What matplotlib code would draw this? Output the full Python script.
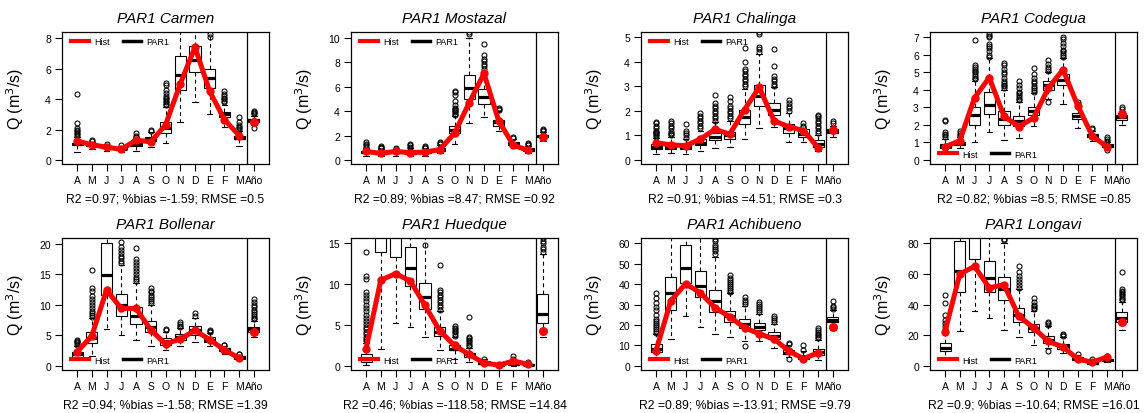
import matplotlib
matplotlib.use("Agg")
import matplotlib.pyplot as plt
from matplotlib.lines import Line2D

plt.rcParams['font.family'] = ['Liberation Sans', 'DejaVu Sans']

months = ["A", "M", "J", "J", "A", "S", "O", "N", "D", "E", "F", "M", "Año"]

# ---------------- Carmen ----------------
carmen_lo = [0.5, 0.7, 0.6, 0.55, 0.6, 0.85, 1.1, 2.5, 3.8, 3.0, 2.2, 0.9, 2.3]
carmen_q1 = [1.0, 0.9, 0.8, 0.7, 0.95, 1.25, 1.8, 4.6, 5.8, 4.7, 2.8, 1.35, 2.5]
carmen_med = [1.05, 1.0, 0.85, 0.75, 1.05, 1.35, 2.1, 5.6, 6.55, 5.4, 3.0, 1.45, 2.6]
carmen_q3 = [1.15, 1.1, 0.95, 0.85, 1.2, 1.5, 2.5, 6.8, 7.45, 6.0, 3.15, 1.6, 2.7]
carmen_hi = [1.5, 1.2, 1.05, 0.95, 1.4, 1.85, 3.5, 8.9, 9.0, 9.2, 3.6, 1.9, 2.9]
carmen_fl = [[1.6, 1.7, 1.8, 1.9, 2.0, 2.1, 2.4, 4.35], [1.25, 1.3], [1.08], [0.97],
             [1.5, 1.6, 1.8], [1.9, 2.0],
             [3.6, 3.7, 3.8, 3.9, 4.0, 4.1, 4.2, 4.4, 4.6, 4.9, 5.05], [], [], [8.1, 8.25],
             [3.8, 3.9, 4.0, 4.1, 4.2, 4.3, 4.5], [2.0, 2.1, 2.2, 2.3, 2.5, 2.8],
             [2.1, 3.0, 3.1, 3.15, 3.2]]
carmen_hist = [1.25, 1.0, 0.85, 0.7, 1.3, 1.2, 2.3, 5.0, 7.4, 4.5, 2.65, 1.6, 2.5]

# ---------------- Mostazal ----------------
mostazal_lo = [0.35, 0.35, 0.35, 0.35, 0.35, 0.6, 1.3, 3.0, 3.5, 2.4, 1.05, 0.55, 1.55]
mostazal_q1 = [0.6, 0.5, 0.55, 0.5, 0.55, 0.75, 2.2, 5.0, 4.6, 2.8, 1.25, 0.75, 1.85]
mostazal_med = [0.65, 0.6, 0.65, 0.6, 0.65, 0.85, 2.5, 5.9, 5.2, 3.1, 1.35, 0.85, 1.95]
mostazal_q3 = [0.75, 0.7, 0.75, 0.75, 0.8, 1.0, 2.8, 7.0, 5.8, 3.3, 1.45, 0.95, 2.05]
mostazal_hi = [1.0, 0.9, 0.85, 0.95, 0.95, 1.2, 3.6, 10.0, 7.3, 4.0, 1.7, 1.15, 2.3]
mostazal_fl = [[1.1, 1.2, 1.3, 1.45], [0.95, 1.0, 1.1, 1.15], [0.9, 0.95], [1.0, 1.1, 1.2, 1.3],
               [1.0, 1.1, 1.15], [1.3, 1.4, 1.5],
               [3.7, 3.8, 3.9, 4.0, 4.1, 4.2, 4.3, 4.5, 4.8, 5.3, 5.6, 5.7], [10.3, 10.5],
               [7.5, 7.7, 7.9, 8.1, 8.3, 8.6, 9.5], [4.1, 4.2, 4.3], [1.8, 1.9],
               [1.2, 1.3, 1.4], [2.4, 2.5, 2.55]]
mostazal_hist = [0.7, 0.55, 0.7, 0.6, 0.65, 0.85, 2.2, 4.7, 7.1, 3.2, 1.2, 0.8, 1.9]

# ---------------- Chalinga ----------------
chalinga_lo = [0.25, 0.3, 0.25, 0.35, 0.5, 0.55, 0.85, 1.3, 1.35, 0.75, 0.75, 0.35, 0.95]
chalinga_q1 = [0.45, 0.45, 0.45, 0.6, 0.8, 0.85, 1.45, 2.2, 1.85, 1.1, 0.95, 0.55, 1.1]
chalinga_med = [0.55, 0.55, 0.55, 0.7, 0.95, 1.0, 1.75, 2.6, 2.05, 1.3, 1.05, 0.65, 1.17]
chalinga_q3 = [0.65, 0.7, 0.65, 0.85, 1.1, 1.15, 2.05, 3.05, 2.3, 1.45, 1.25, 0.8, 1.25]
chalinga_hi = [0.9, 0.95, 0.85, 1.2, 1.55, 1.6, 2.9, 4.3, 2.95, 1.9, 1.3, 1.0, 1.4]
chalinga_fl = [[0.95, 1.0, 1.05, 1.1, 1.15, 1.2, 1.3, 1.4, 1.5, 1.55],
               [1.0, 1.05, 1.1, 1.2, 1.3, 1.4, 1.5, 1.6],
               [0.9, 1.0, 1.1, 1.2, 1.45],
               [1.3, 1.4, 1.5, 1.6, 1.7, 1.8, 1.9],
               [1.6, 1.7, 1.8, 1.9, 2.0, 2.1, 2.2, 2.3, 2.65],
               [1.7, 1.8, 1.9, 2.0, 2.1, 2.2, 2.4, 2.55],
               [3.0, 3.1, 3.2, 3.3, 3.4, 3.5, 3.6, 3.7, 4.0, 4.55],
               [4.4, 4.5, 4.6, 5.1, 5.2],
               [3.0, 3.1, 3.2, 3.3, 3.4, 3.8, 4.5],
               [2.0, 2.1, 2.2, 2.3, 2.45], [1.35, 1.4, 1.5],
               [1.1, 1.2, 1.3, 1.4, 1.5, 1.6, 1.7, 1.8, 1.85], [1.5, 1.6]]
chalinga_hist = [0.7, 0.62, 0.58, 0.85, 1.25, 1.05, 2.05, 2.95, 1.6, 1.35, 1.2, 0.5, 1.22]

# ---------------- Codegua ----------------
codegua_lo = [0.5, 0.7, 1.05, 1.6, 1.15, 1.25, 1.95, 3.5, 3.2, 1.85, 1.1, 0.6, 2.0]
codegua_q1 = [0.7, 0.85, 2.0, 2.6, 2.0, 1.95, 2.55, 4.0, 4.25, 2.35, 1.3, 0.75, 2.3]
codegua_med = [0.8, 0.95, 2.55, 3.15, 2.35, 2.2, 2.8, 4.25, 4.55, 2.5, 1.38, 0.8, 2.45]
codegua_q3 = [0.9, 1.05, 3.05, 3.9, 2.8, 2.5, 3.05, 4.5, 4.9, 2.7, 1.5, 0.9, 2.55]
codegua_hi = [1.2, 1.3, 4.5, 5.8, 4.0, 3.3, 3.8, 5.0, 5.8, 3.1, 1.65, 1.0, 2.8]
codegua_fl = [[1.3, 1.4, 1.5, 1.6, 2.2, 2.3], [1.35, 1.45, 1.55, 1.65],
              [4.6, 4.7, 4.8, 4.9, 5.0, 5.1, 5.2, 5.3, 5.4, 6.85],
              [5.9, 6.0, 6.2, 6.4, 6.5, 6.6, 7.0, 7.1, 7.2],
              [4.1, 4.2, 4.3, 4.4, 4.5, 4.7, 4.9, 5.0, 5.2, 5.4, 5.55],
              [3.4, 3.5, 3.6, 3.7, 3.8, 3.9, 4.1, 4.3, 4.5],
              [3.9, 4.0, 4.1, 4.2, 4.4, 4.5, 4.7, 4.9, 5.25],
              [3.3, 5.1, 5.2, 5.3, 5.5, 5.7],
              [5.9, 6.0, 6.1, 6.2, 6.3, 6.5, 6.7, 6.9, 7.0],
              [3.2, 3.3], [1.75, 1.8], [0.55, 1.05, 1.1, 1.2, 1.3], [2.9, 3.0]]
codegua_hist = [0.75, 1.1, 3.55, 4.7, 2.5, 1.9, 2.4, 4.1, 5.15, 3.1, 1.35, 0.75, 2.65]

# ---------------- Bollenar ----------------
bollenar_lo = [1.0, 1.6, 6.1, 5.0, 4.3, 3.3, 2.6, 3.3, 3.9, 3.2, 1.9, 1.0, 4.7]
bollenar_q1 = [1.5, 3.8, 11.6, 8.2, 6.8, 5.5, 3.4, 4.2, 5.0, 3.9, 2.4, 1.2, 5.6]
bollenar_med = [1.9, 4.6, 14.8, 9.9, 8.1, 6.3, 4.0, 4.7, 5.8, 4.3, 2.7, 1.4, 6.0]
bollenar_q3 = [2.3, 5.6, 20.1, 11.7, 9.7, 7.3, 4.5, 5.2, 6.5, 4.7, 3.0, 1.6, 6.4]
bollenar_hi = [3.3, 7.8, 23.0, 16.5, 13.5, 10.0, 5.6, 6.2, 7.9, 5.4, 3.3, 1.8, 7.4]
bollenar_fl = [[3.5, 3.7, 3.9, 4.1, 4.3],
               [8.0, 8.3, 8.6, 9.0, 9.5, 10.0, 10.5, 11.0, 11.5, 12.2, 12.8, 15.7],
               [],
               [16.8, 17.2, 17.6, 18.0, 18.5, 19.0, 19.5, 20.3],
               [13.8, 14.2, 14.6, 15.0, 15.5, 16.0, 16.5, 17.0, 17.5, 19.3],
               [10.3, 10.6, 11.0, 11.3, 11.6, 12.0, 12.3, 12.8],
               [5.9, 6.1], [6.4, 6.6, 6.8, 7.1], [8.2, 8.7], [5.5, 5.7, 5.9],
               [3.4, 3.5], [1.9, 2.0],
               [7.6, 7.9, 8.2, 8.5, 8.8, 9.2, 9.6, 10.0, 10.5, 11.0]]
bollenar_hist = [2.3, 4.9, 12.4, 9.4, 9.4, 5.9, 3.6, 4.4, 5.8, 4.3, 2.6, 1.3, 5.6]

# ---------------- Huedque ----------------
huedque_lo = [0.15, 2.1, 5.3, 4.8, 3.5, 2.0, 0.9, 0.5, 0.1, 0.0, 0.05, 0.03, 3.5]
huedque_q1 = [0.5, 13.9, 13.3, 9.8, 7.0, 3.7, 1.9, 1.1, 0.25, 0.05, 0.15, 0.1, 5.2]
huedque_med = [0.8, 16.5, 17.0, 12.0, 8.4, 4.2, 2.1, 1.4, 0.35, 0.1, 0.2, 0.15, 6.4]
huedque_q3 = [1.45, 19.5, 21.0, 14.5, 10.1, 4.8, 2.5, 1.6, 0.55, 0.2, 0.35, 0.25, 8.8]
huedque_hi = [2.8, 30.0, 32.0, 22.0, 16.5, 6.7, 3.5, 2.2, 0.8, 0.35, 0.6, 0.4, 13.7]
huedque_fl = [[3.0, 3.3, 3.6, 3.9, 4.2, 4.5, 4.8, 5.1, 5.5, 5.9, 6.2, 6.7, 7.1, 7.5,
               7.9, 8.3, 8.7, 9.0, 10.6, 11.0, 13.9],
              [], [], [], [14.8],
              [6.9, 7.2, 7.5, 7.8, 8.1, 8.4, 8.7, 9.0, 9.3, 12.3],
              [3.7, 3.9, 4.1, 4.3, 4.5, 4.7, 4.9],
              [2.4, 2.6, 2.8, 3.0, 3.2, 3.4, 3.6, 6.0],
              [0.9], [], [0.7, 0.8, 1.2], [0.45],
              [14.0, 14.3, 14.6, 15.0, 15.3, 15.6]]
huedque_hist = [2.1, 10.5, 11.3, 10.4, 7.4, 4.3, 2.5, 1.4, 0.35, 0.1, 0.6, 0.2, 4.3]

# ---------------- Achibueno ----------------
achibueno_lo = [3.5, 13.0, 24.3, 19.0, 15.5, 14.0, 12.3, 12.0, 9.0, 4.5, 2.5, 2.8, 17.5]
achibueno_q1 = [7.0, 27.5, 40.5, 33.5, 26.5, 21.5, 18.5, 17.5, 13.0, 5.8, 3.5, 5.5, 21.5]
achibueno_med = [8.5, 35.5, 47.8, 39.0, 31.8, 24.3, 20.5, 19.2, 14.5, 6.5, 4.3, 6.8, 22.5]
achibueno_q3 = [10.8, 43.5, 59.0, 46.3, 37.3, 27.0, 22.8, 21.2, 16.5, 7.8, 5.2, 8.5, 24.0]
achibueno_hi = [15.5, 70.0, 85.0, 70.0, 53.5, 35.5, 29.5, 25.5, 20.5, 10.3, 7.5, 12.8, 27.5]
achibueno_fl = [[16, 17, 18, 19, 20, 21, 22, 23, 25, 27.5, 29, 31, 33, 35.8],
                [], [], [],
                [55, 56, 57, 58, 59, 61, 62],
                [36, 37, 38, 39, 40, 41, 42, 43, 44.5],
                [9.8, 30.5, 31.5, 32.5, 33.5],
                [26.5, 27.5, 28.5, 29.5, 30.5, 31.5],
                [21.5, 22.5, 23.5, 24.5],
                [3.2, 10.8, 11.3], [8, 10.3],
                [13.5, 14.3, 15, 15.8, 16.5, 17.5, 18.5],
                [28, 29, 29.5, 32]]
achibueno_hist = [7.5, 31.8, 40.2, 35.8, 28.5, 24.0, 18.7, 15.7, 13.2, 7.3, 3.5, 6.5, 19.2]

# ---------------- Longavi ----------------
longavi_lo = [4.5, 23.0, 36.0, 31.0, 23.5, 19.0, 14.0, 11.5, 8.5, 3.0, 1.0, 2.3, 23.5]
longavi_q1 = [9.5, 48.0, 70.0, 48.0, 43.0, 29.0, 22.0, 15.0, 11.0, 4.0, 1.5, 3.0, 29.0]
longavi_med = [12.0, 62.0, 90.0, 57.5, 50.5, 33.0, 25.0, 17.0, 13.0, 5.0, 2.2, 3.7, 31.5]
longavi_q3 = [15.0, 81.5, 110.0, 68.5, 58.0, 38.0, 27.5, 19.5, 14.5, 6.0, 3.0, 4.5, 35.0]
longavi_hi = [22.0, 120.0, 150.0, 110.0, 80.0, 50.0, 36.0, 26.0, 19.0, 7.5, 4.0, 5.5, 42.0]
longavi_fl = [[24, 26, 28, 30, 33.5, 41, 46], [], [], [], [82, 83],
              [51, 53, 55, 57, 59, 61, 65.5],
              [37, 38, 39, 40, 42, 44.5],
              [10, 27, 28, 29], [19.5, 20, 21], [8], [4.5], [6, 6.5],
              [43, 44, 45, 46, 47, 48, 49, 50, 61.5]]
longavi_hist = [22.5, 60.0, 65.0, 51.0, 53.0, 32.5, 25.0, 16.0, 12.5, 4.5, 2.5, 6.0, 29.0]

titles = ["PAR1 Carmen", "PAR1 Mostazal", "PAR1 Chalinga", "PAR1 Codegua",
          "PAR1 Bollenar", "PAR1 Huedque", "PAR1 Achibueno", "PAR1 Longavi"]
r2_vals = ["0.97", "0.89", "0.91", "0.82", "0.94", "0.46", "0.89", "0.9"]
bias_vals = ["-1.59", "8.47", "4.51", "8.5", "-1.58", "-118.58", "-13.91", "-10.64"]
rmse_vals = ["0.5", "0.92", "0.3", "0.85", "1.39", "14.84", "9.79", "16.01"]
ylims = [(-0.26, 8.4), (-0.33, 10.5), (-0.16, 5.2), (-0.23, 7.3),
         (-0.66, 20.9), (-0.5, 15.66), (-2.0, 62.6), (-2.6, 83.5)]
ytick_sets = [[0, 2, 4, 6, 8], [0, 2, 4, 6, 8, 10], [0, 1, 2, 3, 4, 5],
              [0, 1, 2, 3, 4, 5, 6, 7], [0, 5, 10, 15, 20], [0, 5, 10, 15],
              [0, 10, 20, 30, 40, 50, 60], [0, 20, 40, 60, 80]]
legend_top = [True, True, True, False, False, False, False, False]

series = [
    (carmen_lo, carmen_q1, carmen_med, carmen_q3, carmen_hi, carmen_fl, carmen_hist),
    (mostazal_lo, mostazal_q1, mostazal_med, mostazal_q3, mostazal_hi, mostazal_fl, mostazal_hist),
    (chalinga_lo, chalinga_q1, chalinga_med, chalinga_q3, chalinga_hi, chalinga_fl, chalinga_hist),
    (codegua_lo, codegua_q1, codegua_med, codegua_q3, codegua_hi, codegua_fl, codegua_hist),
    (bollenar_lo, bollenar_q1, bollenar_med, bollenar_q3, bollenar_hi, bollenar_fl, bollenar_hist),
    (huedque_lo, huedque_q1, huedque_med, huedque_q3, huedque_hi, huedque_fl, huedque_hist),
    (achibueno_lo, achibueno_q1, achibueno_med, achibueno_q3, achibueno_hi, achibueno_fl, achibueno_hist),
    (longavi_lo, longavi_q1, longavi_med, longavi_q3, longavi_hi, longavi_fl, longavi_hist),
]

W, H = 1147, 414
fig = plt.figure(figsize=(W / 100, H / 100), dpi=100)

col_left = [62, 351, 641, 930]
row_top = [33, 239]
ax_w, ax_h = 207, 132

positions = list(range(1, 14))

for k in range(8):
    r, c = divmod(k, 4)
    left = col_left[c] / W
    bottom = 1 - (row_top[r] + ax_h) / H
    ax = fig.add_axes([left, bottom, ax_w / W, ax_h / H])
    lo, q1, med, q3, hi, fl, hist = series[k]
    stats = [dict(whislo=lo[i], q1=q1[i], med=med[i], q3=q3[i], whishi=hi[i], fliers=fl[i])
             for i in range(13)]
    ax.bxp(stats, positions=positions, widths=0.75, patch_artist=True,
           boxprops=dict(facecolor='white', edgecolor='black', linewidth=0.8),
           medianprops=dict(color='black', linewidth=2.3, solid_capstyle='butt'),
           whiskerprops=dict(color='black', linewidth=0.8, linestyle=(0, (3.5, 3))),
           capprops=dict(color='black', linewidth=0.8),
           flierprops=dict(marker='o', markersize=3.6, markerfacecolor='none',
                           markeredgecolor='black', markeredgewidth=0.75))
    ax.plot(positions[:12], hist[:12], color='red', lw=3.6, marker='o', ms=5,
            solid_joinstyle='round', zorder=6)
    ax.plot(positions[12:], hist[12:], 'o', color='red', ms=5.5, zorder=6)
    ax.axvline(12.5, color='black', lw=0.9, zorder=7)

    ax.set_xlim(-0.02, 14.02)
    ax.set_ylim(*ylims[k])
    ax.set_yticks(ytick_sets[k])
    ax.set_xticks(positions)
    ax.set_xticklabels(months)
    ax.tick_params(axis='both', direction='out', length=5, width=0.8, labelsize=7.5)
    ax.tick_params(axis='x', pad=3)
    ax.tick_params(axis='y', pad=3)
    for s in ax.spines.values():
        s.set_linewidth(0.9)
    ax.set_title(titles[k], fontsize=11, style='italic', pad=7)
    ax.set_ylabel("Q (m$^3$/s)", fontsize=11.5)
    ax.yaxis.set_label_coords(-0.175, 0.5)
    ax.text(0.5, -0.265, f"R2 ={r2_vals[k]}; %bias ={bias_vals[k]}; RMSE ={rmse_vals[k]}",
            transform=ax.transAxes, ha='center', va='center', fontsize=8.8)

    handles = [Line2D([], [], color='red', lw=3), Line2D([], [], color='black', lw=2.5)]
    if legend_top[k]:
        leg = ax.legend(handles, ["Hist", "PAR1"], loc='upper left', bbox_to_anchor=(0.03, 0.98),
                        ncol=2, frameon=False, fontsize=6.5, handlelength=2.0,
                        handletextpad=0.6, columnspacing=1.4, borderaxespad=0, borderpad=0.3)
    else:
        leg = ax.legend(handles, ["Hist", "PAR1"], loc='lower left', bbox_to_anchor=(0.03, 0.02),
                        ncol=2, frameon=False, fontsize=6.5, handlelength=2.0,
                        handletextpad=0.6, columnspacing=1.4, borderaxespad=0, borderpad=0.3)
    leg.set_zorder(8)

fig.savefig("out.png", dpi=100)
